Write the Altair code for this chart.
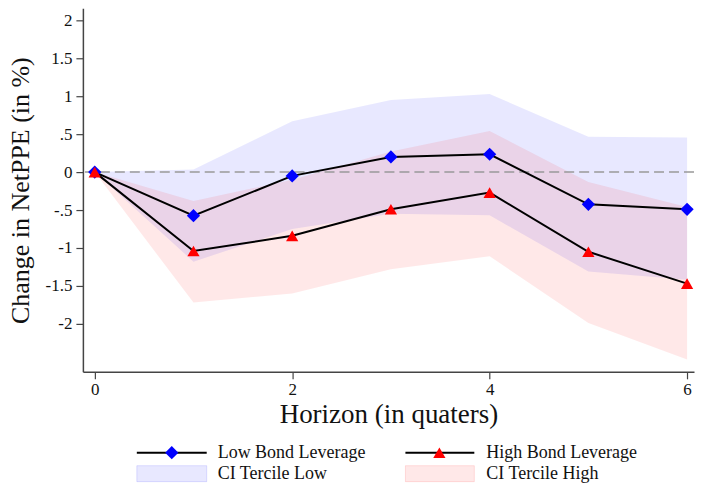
import altair as alt
import pandas as pd

# ---- data ----
horizon = [0, 1, 2, 3, 4, 5, 6]
low_lev = [0, -0.575, -0.05, 0.20, 0.235, -0.425, -0.49]
high_lev = [0, -1.04, -0.84, -0.49, -0.27, -1.05, -1.47]
low_ci_lo = [0, -1.18, -0.75, -0.55, -0.57, -1.31, -1.42]
low_ci_hi = [0, 0.035, 0.67, 0.95, 1.03, 0.465, 0.455]
high_ci_lo = [0, -1.72, -1.60, -1.28, -1.11, -1.99, -2.47]
high_ci_hi = [0, -0.38, -0.10, 0.27, 0.54, -0.13, -0.46]

x_ticks = [0, 2, 4, 6]
y_ticks = [-2, -1.5, -1, -0.5, 0, 0.5, 1, 1.5, 2]

legend_labels = ["Low Bond Leverage", "High Bond Leverage", "CI Tercile Low", "CI Tercile High"]

df = pd.DataFrame({
    "h": horizon, "low": low_lev, "high": high_lev,
    "low_lo": low_ci_lo, "low_hi": low_ci_hi,
    "high_lo": high_ci_lo, "high_hi": high_ci_hi,
})

FONT = "Liberation Serif"
BLUE = "#0000FF"
RED = "#FF0000"

xscale = alt.Scale(domain=[-0.12, 6.07], nice=False, zero=False)
yscale = alt.Scale(domain=[-2.632, 2.158], nice=False, zero=False)

xaxis = alt.Axis(values=x_ticks, title="Horizon (in quaters)", grid=False,
                 tickSize=7, labelPadding=3, titlePadding=3,
                 minExtent=27, maxExtent=27,
                 labelFont=FONT, titleFont=FONT,
                 labelFontSize=17, titleFontSize=27, labelFlush=False,
                 format="d")
yaxis = alt.Axis(values=y_ticks, title="Change in NetPPE (in %)", grid=False,
                 tickSize=7, labelPadding=4, titlePadding=11,
                 minExtent=38, maxExtent=38,
                 labelFont=FONT, titleFont=FONT,
                 labelFontSize=17, titleFontSize=26,
                 labelExpr="replace(toString(datum.value), '0.', '.')")

base = alt.Chart(df)

area_low = base.mark_area(color=BLUE, opacity=0.09).encode(
    x=alt.X("h:Q", scale=xscale, axis=xaxis),
    y=alt.Y("low_lo:Q", scale=yscale, axis=yaxis),
    y2="low_hi:Q",
)
area_high = base.mark_area(color=RED, opacity=0.09).encode(
    x=alt.X("h:Q", scale=xscale),
    y=alt.Y("high_lo:Q", scale=yscale),
    y2="high_hi:Q",
)
zero_rule = alt.Chart(pd.DataFrame({"z": [0]})).mark_rule(
    color="#999999", strokeDash=[10, 5], strokeWidth=1.5
).encode(y=alt.Y("z:Q", scale=yscale))

line_low = base.mark_line(color="black", strokeWidth=2).encode(
    x=alt.X("h:Q", scale=xscale), y=alt.Y("low:Q", scale=yscale))
pts_low = base.mark_point(shape="diamond", filled=True, size=175, color=BLUE, opacity=1).encode(
    x=alt.X("h:Q", scale=xscale), y=alt.Y("low:Q", scale=yscale))
line_high = base.mark_line(color="black", strokeWidth=2).encode(
    x=alt.X("h:Q", scale=xscale), y=alt.Y("high:Q", scale=yscale))
pts_high = base.mark_point(shape="triangle-up", filled=True, size=150, color=RED, opacity=1).encode(
    x=alt.X("h:Q", scale=xscale), y=alt.Y("high:Q", scale=yscale))

main = alt.layer(area_low, area_high, zero_rule, line_low, pts_low, line_high, pts_high).properties(
    width=612, height=364)

# ---- legend panel (own scales) ----
leg = pd.DataFrame({
    "label": legend_labels,
    "kind": ["line", "line", "box", "box"],
    "sym_x0": [54, 323, 54, 323],
    "sym_x1": [124, 392, 124, 392],
    "mid": [89, 357, 89, 357],
    "text_x": [135, 404, 135, 404],
    "row_y": [25, 25, 46, 46],
    "box_y0": [38, 38, 38, 38],
    "box_y1": [54, 54, 54, 54],
    "color": [BLUE, RED, BLUE, RED],
})
lx = alt.Scale(domain=[0, 612], nice=False, zero=False)
ly = alt.Scale(domain=[0, 56], nice=False, zero=False, reverse=True)
lbase = alt.Chart(leg)

leg_lines = lbase.transform_filter("datum.kind == 'line'").mark_rule(color="black", strokeWidth=2).encode(
    x=alt.X("sym_x0:Q", scale=lx, axis=None), x2="sym_x1:Q",
    y=alt.Y("row_y:Q", scale=ly, axis=None))
leg_dia = lbase.transform_filter("datum.label == 'Low Bond Leverage'").mark_point(
    shape="diamond", filled=True, size=175, color=BLUE, opacity=1).encode(
    x=alt.X("mid:Q", scale=lx, axis=None), y=alt.Y("row_y:Q", scale=ly, axis=None))
leg_tri = lbase.transform_filter("datum.label == 'High Bond Leverage'").mark_point(
    shape="triangle-up", filled=True, size=150, color=RED, opacity=1).encode(
    x=alt.X("mid:Q", scale=lx, axis=None), y=alt.Y("row_y:Q", scale=ly, axis=None))
leg_box = lbase.transform_filter("datum.kind == 'box'").mark_rect(
    fillOpacity=0.09, strokeOpacity=0.12, strokeWidth=1).encode(
    x=alt.X("sym_x0:Q", scale=lx, axis=None), x2="sym_x1:Q",
    y=alt.Y("box_y0:Q", scale=ly, axis=None), y2="box_y1:Q",
    fill=alt.Fill("color:N", scale=None), stroke=alt.Stroke("color:N", scale=None))
leg_text = lbase.mark_text(align="left", baseline="middle", font=FONT, fontSize=18, color="#111111").encode(
    x=alt.X("text_x:Q", scale=lx, axis=None), y=alt.Y("row_y:Q", scale=ly, axis=None),
    text="label:N")

legend = alt.layer(leg_box, leg_lines, leg_dia, leg_tri, leg_text).properties(width=612, height=56)

chart = alt.vconcat(main, legend, spacing=0).properties(
    padding={"left": 0, "top": 0, "right": 0, "bottom": 0}
).configure_view(stroke=None).configure_axis(
    labelFont=FONT, titleFont=FONT, labelColor="#111111", titleColor="#111111",
    domainColor="#444444", tickColor="#444444", domainWidth=1.5, tickWidth=1.2,
    titleFontWeight="normal"
).configure_text(font=FONT)

chart.save("out.html", embed_options={"renderer": "svg", "actions": False})
